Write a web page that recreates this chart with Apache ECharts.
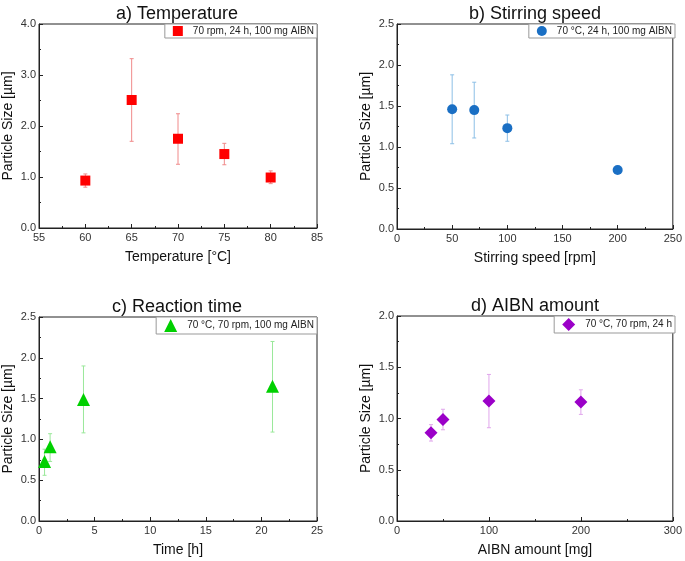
<!DOCTYPE html>
<html>
<head>
<meta charset="utf-8">
<script src="https://cdn.jsdelivr.net/npm/echarts@6/dist/echarts.min.js"></script>
<style>
  html, body { margin: 0; padding: 0; background: #fff; }
  #chart { width: 685px; height: 561px; }
</style>
</head>
<body>
<div id="chart"></div>
<script>
// a) temperature
const tempC = [60, 65, 70, 75, 80]
const tempSize = [0.93, 2.51, 1.75, 1.45, 0.99]
const tempLo = [0.80, 1.70, 1.25, 1.24, 0.87]
const tempHi = [1.06, 3.32, 2.24, 1.66, 1.12]

// b) stirring speed
const speedRpm = [50, 70, 100, 200]
const speedSize = [1.46, 1.45, 1.23, 0.72]
const speedLo = [1.04, 1.11, 1.07, 0.70]
const speedHi = [1.88, 1.79, 1.39, 0.74]

// c) reaction time
const timeH = [0.5, 1, 4, 21]
const timeSize = [0.73, 0.91, 1.49, 1.65]
const timeLo = [0.56, 0.73, 1.08, 1.09]
const timeHi = [0.88, 1.07, 1.90, 2.20]

// d) AIBN amount
const aibnMg = [37, 50, 100, 200]
const aibnSize = [0.86, 0.99, 1.17, 1.16]
const aibnLo = [0.78, 0.89, 0.91, 1.04]
const aibnHi = [0.94, 1.09, 1.43, 1.28]

const font = 'Liberation Sans, Arial, sans-serif'

const panels = [
    {
        title: 'a) Temperature', xName: 'Temperature [°C]', legend: '70 rpm, 24 h, 100 mg AIBN',
        x: tempC, y: tempSize, lo: tempLo, hi: tempHi,
        xMin: 55, xMax: 85, xInt: 5, yMax: 4, yInt: 1,
        grid: { left: 39, top: 24, width: 278, height: 204 },
        symbol: 'rect', size: 10, color: '#ff0000', errColor: '#f08a8a',
    },
    {
        title: 'b) Stirring speed', xName: 'Stirring speed [rpm]', legend: '70 °C, 24 h, 100 mg AIBN',
        x: speedRpm, y: speedSize, lo: speedLo, hi: speedHi,
        xMin: 0, xMax: 250, xInt: 50, yMax: 2.5, yInt: 0.5,
        grid: { left: 397, top: 24, width: 278, height: 205 },
        symbol: 'circle', size: 10, color: '#1a6fc4', errColor: '#8cbfe6',
    },
    {
        title: 'c) Reaction time', xName: 'Time [h]', legend: '70 °C, 70 rpm, 100 mg AIBN',
        x: timeH, y: timeSize, lo: timeLo, hi: timeHi,
        xMin: 0, xMax: 25, xInt: 5, yMax: 2.5, yInt: 0.5,
        grid: { left: 39, top: 317, width: 278, height: 204 },
        symbol: 'triangle', size: 13, color: '#00d000', errColor: '#9ae89a',
    },
    {
        title: 'd) AIBN amount', xName: 'AIBN amount [mg]', legend: '70 °C, 70 rpm, 24 h',
        x: aibnMg, y: aibnSize, lo: aibnLo, hi: aibnHi,
        xMin: 0, xMax: 300, xInt: 100, yMax: 2, yInt: 0.5,
        grid: { left: 397, top: 316, width: 278, height: 205 },
        symbol: 'diamond', size: 13, color: '#9b00c8', errColor: '#e0a6ec',
    },
]

const chart = echarts.init(document.getElementById('chart'))

const axisCommon = {
    axisLine: { onZero: false, lineStyle: { color: '#222', width: 1 } },
    axisTick: { inside: true, length: 4, lineStyle: { color: '#222' } },
    minorTick: { show: true, splitNumber: 2, length: 2, lineStyle: { color: '#222' } },
    splitLine: { show: false },
    nameLocation: 'middle',
    nameTextStyle: { fontSize: 14, color: '#111', fontFamily: font },
}

const errorBar = (p, idx) => ({
    type: 'custom',
    xAxisIndex: idx,
    yAxisIndex: idx,
    silent: true,
    z: 1,
    data: p.x.map((v, i) => [v, p.lo[i], p.hi[i]]),
    renderItem: (params, api) => {
        const lo = api.coord([api.value(0), api.value(1)])
        const hi = api.coord([api.value(0), api.value(2)])
        const cap = 2
        const style = { stroke: p.errColor, lineWidth: 1 }
        return {
            type: 'group',
            children: [
                { type: 'line', shape: { x1: lo[0], y1: lo[1], x2: hi[0], y2: hi[1] }, style },
                { type: 'line', shape: { x1: lo[0] - cap, y1: lo[1], x2: lo[0] + cap, y2: lo[1] }, style },
                { type: 'line', shape: { x1: hi[0] - cap, y1: hi[1], x2: hi[0] + cap, y2: hi[1] }, style },
            ],
        }
    },
})

chart.setOption({
    animation: false,
    title: panels.map((p) => ({
        text: p.title,
        left: p.grid.left + p.grid.width / 2 - 6,
        top: p.grid.top - 24,
        textAlign: 'center',
        textStyle: { fontSize: 18, fontWeight: 'normal', color: '#111', fontFamily: font },
    })),
    legend: panels.map((p, i) => ({
        data: [p.legend],
        right: 685 - p.grid.left - p.grid.width,
        top: p.grid.top,
        orient: 'vertical',
        backgroundColor: '#fff',
        borderColor: '#999',
        borderWidth: 1,
        padding: [2, 3, 2, 8],
        itemWidth: p.size,
        itemHeight: p.size,
        itemGap: 0,
        selectedMode: false,
        textStyle: { fontSize: 10, color: '#222', fontFamily: font, padding: [0, 0, 0, 5] },
    })),
    grid: panels.map((p) => ({
        ...p.grid,
        show: true,
        borderColor: '#222',
        borderWidth: 1,
        backgroundColor: 'transparent',
    })),
    xAxis: panels.map((p, i) => ({
        ...axisCommon,
        type: 'value',
        gridIndex: i,
        min: p.xMin,
        max: p.xMax,
        interval: p.xInt,
        name: p.xName,
        nameGap: 22,
        axisLabel: { fontSize: 11, color: '#333', margin: 4, fontFamily: font },
    })),
    yAxis: panels.map((p, i) => ({
        ...axisCommon,
        type: 'value',
        gridIndex: i,
        min: 0,
        max: p.yMax,
        interval: p.yInt,
        name: 'Particle Size [µm]',
        nameGap: 24,
        axisLabel: { fontSize: 11, color: '#333', margin: 3, fontFamily: font, formatter: (v) => v.toFixed(1) },
    })),
    series: panels.flatMap((p, i) => [
        errorBar(p, i),
        {
            type: 'scatter',
            name: p.legend,
            xAxisIndex: i,
            yAxisIndex: i,
            symbol: p.symbol,
            symbolSize: p.size,
            itemStyle: { color: p.color, opacity: 1 },
            z: 3,
            data: p.x.map((v, j) => [v, p.y[j]]),
        },
    ]),
})
</script>
</body>
</html>
